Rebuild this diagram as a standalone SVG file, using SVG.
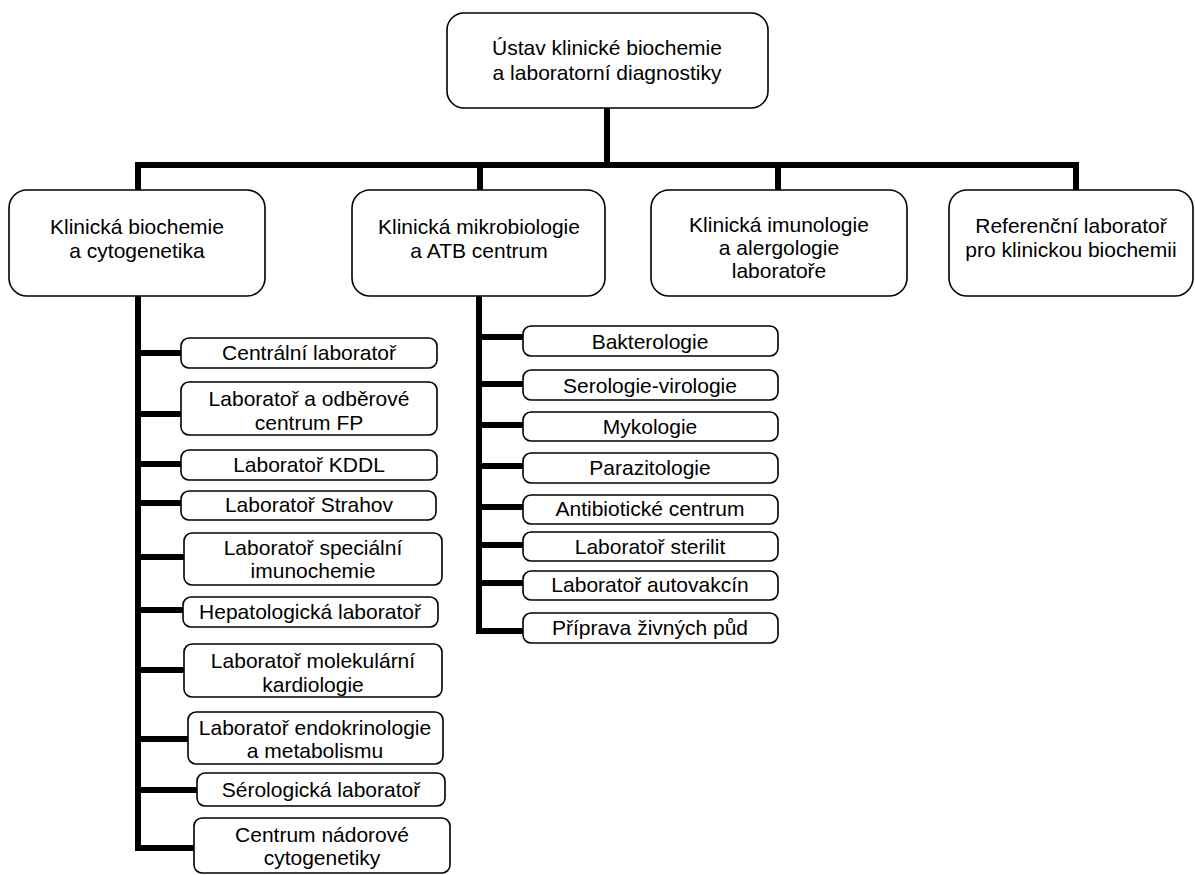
<svg xmlns="http://www.w3.org/2000/svg" width="1195" height="875" viewBox="0 0 1195 875">
<style>
.b{fill:#fff;stroke:#000;stroke-width:1.6}
.t{font-family:"Liberation Sans",Arial,sans-serif;font-size:21px;fill:#000;text-anchor:middle}
.c{fill:none;stroke:#000;stroke-width:6;stroke-linejoin:miter}
</style>
<rect width="1195" height="875" fill="#fff"/>
<g id="connectors" class="c">
<path d="M607,108 V165"/>
<path d="M138,190 V165 H1076 V190"/>
<path d="M480,165 V190"/>
<path d="M778,165 V190"/>
<path d="M138,296 V848 H194"/>
<path d="M138,353 H181 M138,414 H181 M138,464 H181 M138,503 H181 M138,557 H184 M138,610 H183 M138,670 H184 M138,739 H188 M138,790 H197"/>
<path d="M479,296 V631 H523"/>
<path d="M479,337 H523 M479,384 H523 M479,425 H523 M479,466 H523 M479,507 H523 M479,545 H523 M479,583 H523"/>
</g>
<g id="root"><rect class="b" x="447" y="13" width="321" height="95" rx="17"/>
<text class="t" x="607" y="55">Ústav klinické biochemie</text><text class="t" x="607" y="80">a laboratorní diagnostiky</text></g>
<g id="n1"><rect class="b" x="9" y="190" width="256" height="106" rx="18"/>
<text class="t" x="137" y="234">Klinická biochemie</text><text class="t" x="137" y="258">a cytogenetika</text></g>
<g id="n2"><rect class="b" x="352" y="190" width="253" height="106" rx="18"/>
<text class="t" x="479" y="234">Klinická mikrobiologie</text><text class="t" x="479" y="258">a ATB centrum</text></g>
<g id="n3"><rect class="b" x="651" y="190" width="256" height="106" rx="18"/>
<text class="t" x="779" y="232">Klinická imunologie</text><text class="t" x="779" y="255">a alergologie</text><text class="t" x="779" y="278">laboratoře</text></g>
<g id="n4"><rect class="b" x="949" y="190" width="244" height="106" rx="18"/>
<text class="t" x="1071" y="233">Referenční laboratoř</text><text class="t" x="1071" y="257">pro klinickou biochemii</text></g>
<g id="c1"><rect class="b" x="181" y="338" width="256" height="30" rx="8"/><text class="t" x="309" y="360">Centrální laboratoř</text></g>
<g id="c2"><rect class="b" x="181" y="382" width="256" height="53" rx="8"/><text class="t" x="309" y="406">Laboratoř a odběrové</text><text class="t" x="309" y="430">centrum FP</text></g>
<g id="c3"><rect class="b" x="181" y="450" width="256" height="30" rx="8"/><text class="t" x="309" y="472">Laboratoř KDDL</text></g>
<g id="c4"><rect class="b" x="181" y="491" width="255" height="29" rx="8"/><text class="t" x="309" y="512">Laboratoř Strahov</text></g>
<g id="c5"><rect class="b" x="184" y="533" width="258" height="52" rx="8"/><text class="t" x="313" y="555">Laboratoř speciální</text><text class="t" x="313" y="578">imunochemie</text></g>
<g id="c6"><rect class="b" x="183" y="597" width="255" height="30" rx="8"/><text class="t" x="310" y="619">Hepatologická laboratoř</text></g>
<g id="c7"><rect class="b" x="184" y="644" width="258" height="53" rx="8"/><text class="t" x="313" y="668">Laboratoř molekulární</text><text class="t" x="313" y="692">kardiologie</text></g>
<g id="c8"><rect class="b" x="188" y="712" width="255" height="52" rx="8"/><text class="t" x="315" y="735">Laboratoř endokrinologie</text><text class="t" x="315" y="758">a metabolismu</text></g>
<g id="c9"><rect class="b" x="197" y="773" width="248" height="33" rx="8"/><text class="t" x="321" y="797">Sérologická laboratoř</text></g>
<g id="c10"><rect class="b" x="194" y="818" width="256" height="55" rx="8"/><text class="t" x="322" y="842">Centrum nádorové</text><text class="t" x="322" y="865">cytogenetiky</text></g>
<g id="m1"><rect class="b" x="523" y="326" width="255" height="30" rx="8"/><text class="t" x="650" y="349">Bakterologie</text></g>
<g id="m2"><rect class="b" x="523" y="370" width="255" height="30" rx="8"/><text class="t" x="650" y="393">Serologie-virologie</text></g>
<g id="m3"><rect class="b" x="523" y="412" width="255" height="29" rx="8"/><text class="t" x="650" y="434">Mykologie</text></g>
<g id="m4"><rect class="b" x="523" y="453" width="255" height="30" rx="8"/><text class="t" x="650" y="475">Parazitologie</text></g>
<g id="m5"><rect class="b" x="523" y="495" width="255" height="29" rx="8"/><text class="t" x="650" y="516">Antibiotické centrum</text></g>
<g id="m6"><rect class="b" x="523" y="532" width="255" height="29" rx="8"/><text class="t" x="650" y="554">Laboratoř sterilit</text></g>
<g id="m7"><rect class="b" x="523" y="571" width="255" height="29" rx="8"/><text class="t" x="650" y="592">Laboratoř autovakcín</text></g>
<g id="m8"><rect class="b" x="523" y="613" width="255" height="30" rx="8"/><text class="t" x="650" y="635">Příprava živných půd</text></g>
</svg>
